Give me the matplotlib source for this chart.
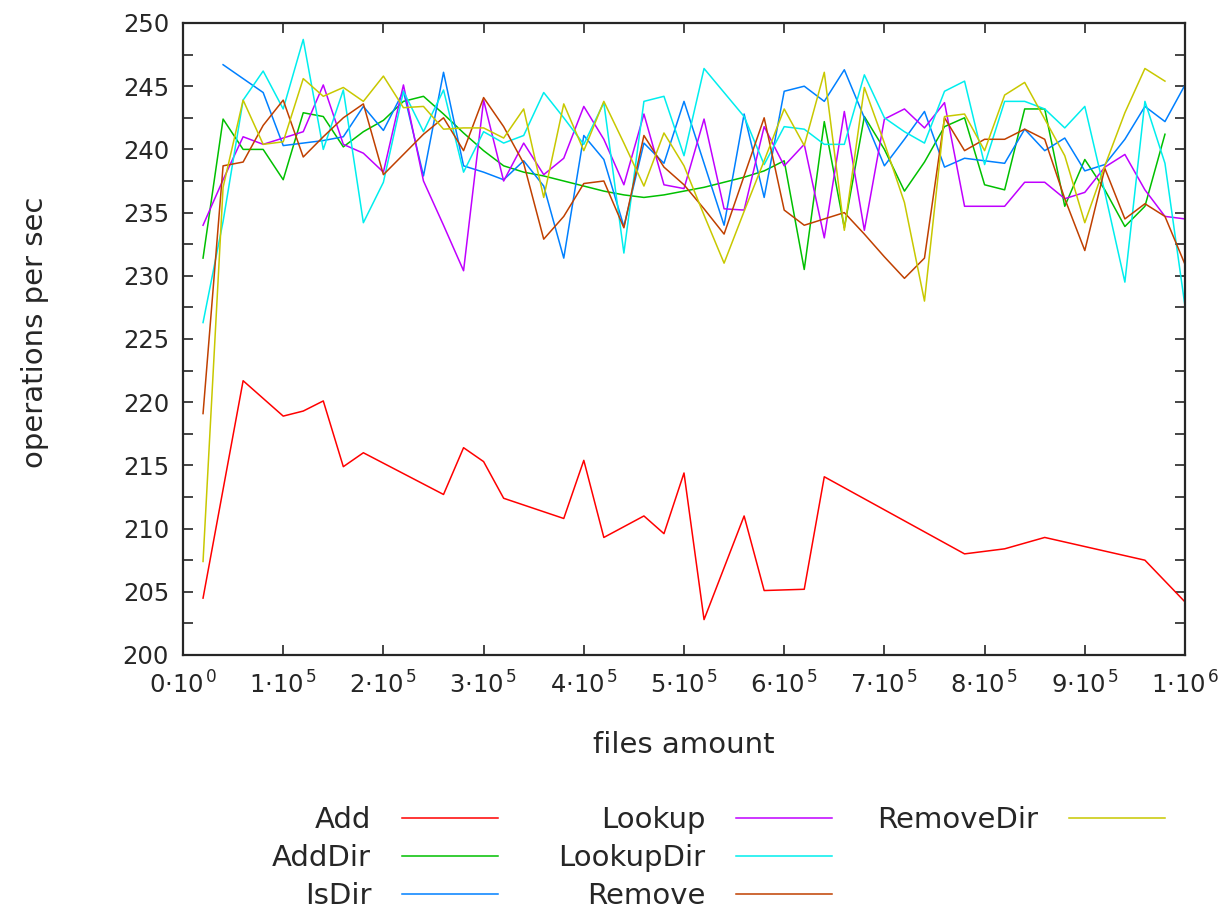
import matplotlib
matplotlib.use('Agg')
import matplotlib.pyplot as plt
from matplotlib.ticker import MultipleLocator, FixedLocator

plt.rcParams['font.family'] = ['DejaVu Sans']
plt.rcParams['mathtext.fontset'] = 'dejavusans'

# ---- data (files amount in thousands) ----
x_full = [20, 40, 60, 80, 100, 120, 140, 160, 180, 200, 220, 240, 260, 280, 300,
          320, 340, 360, 380, 400, 420, 440, 460, 480, 500, 520, 540, 560, 580, 600,
          620, 640, 660, 680, 700, 720, 740, 760, 780, 800, 820, 840, 860, 880, 900,
          920, 940, 960, 980, 1000]

add_x = [20, 60, 100, 120, 140, 160, 180, 260, 280, 300, 320, 380, 400, 420, 460,
         480, 500, 520, 560, 580, 620, 640, 780, 800, 820, 860, 960, 1000]
add_y = [204.5, 221.7, 218.9, 219.3, 220.1, 214.9, 216.0, 212.7, 216.4, 215.3, 212.4,
         210.8, 215.4, 209.3, 211.0, 209.6, 214.4, 202.8, 211.0, 205.1, 205.2, 214.1,
         208.0, 208.2, 208.4, 209.3, 207.5, 204.2]

adddir_y = [231.4, 242.4, 240.0, 240.0, 237.6, 242.9, 242.6, 240.2, 241.4, 242.3,
            243.8, 244.2, 242.8, 241.3, 239.9, 238.7, 238.2, 237.9, 237.5, 237.1,
            236.7, 236.4, 236.2, 236.4, 236.7, 237.0, 237.4, 237.8, 238.3, 239.1,
            230.5, 242.2, 233.8, 242.6, 240.0, 236.7, 239.0, 241.8, 242.5, 237.2,
            236.8, 243.2, 243.2, 235.5, 239.2, 236.8, 233.9, 235.5, 241.2]

isdir_y = [246.7, 245.6, 244.5, 240.3, 240.5, 240.7, 241.0, 243.4, 241.5, 244.6,
           237.9, 246.1, 238.7, 238.2, 237.6, 239.1, 237.1, 231.4, 241.1, 239.2,
           233.9, 240.5, 238.9, 243.8, 238.9, 234.0, 242.8, 236.2, 244.6, 245.0,
           243.8, 246.3, 242.5, 238.7, 240.8, 243.0, 238.6, 239.3, 239.1, 238.9,
           241.6, 239.9, 240.9, 238.3, 238.8, 240.8, 243.4, 242.2, 245.1]

lookup_y = [234.0, 237.6, 241.0, 240.4, 240.9, 241.4, 245.1, 240.4, 239.7, 238.2,
            245.1, 237.5, 234.0, 230.4, 243.9, 237.5, 240.5, 238.0, 239.3, 243.4,
            240.8, 237.2, 242.8, 237.2, 236.9, 242.4, 235.3, 235.2, 241.8, 238.7,
            240.4, 233.0, 243.0, 233.6, 242.4, 243.2, 241.7, 243.7, 235.5, 235.5,
            235.5, 237.4, 237.4, 236.1, 236.6, 238.6, 239.6, 236.8, 234.7, 234.5]

lookupdir_y = [226.3, 234.3, 243.9, 246.2, 243.2, 248.7, 240.0, 244.7, 234.2, 237.4,
               244.6, 241.4, 244.7, 238.2, 241.4, 240.5, 241.1, 244.5, 242.5, 240.4,
               243.7, 231.8, 243.8, 244.2, 239.5, 246.4, 244.5, 242.6, 238.8, 241.8,
               241.6, 240.4, 240.4, 245.9, 242.5, 241.4, 240.5, 244.6, 245.4, 238.8,
               243.8, 243.8, 243.2, 241.7, 243.4, 236.6, 229.5, 243.8, 238.9, 227.6]

remove_y = [219.1, 238.7, 239.0, 241.9, 243.9, 239.4, 241.0, 242.5, 243.6, 238.0,
            239.6, 241.2, 242.5, 239.9, 244.1, 241.8, 238.9, 232.9, 234.7, 237.3,
            237.5, 233.8, 241.1, 238.6, 237.2, 235.3, 233.3, 237.9, 242.5, 235.2,
            234.0, 234.5, 235.0, 233.3, 231.5, 229.8, 231.4, 242.5, 239.9, 240.8,
            240.8, 241.6, 240.8, 236.1, 232.0, 238.5, 234.5, 235.7, 234.7, 230.9]

removedir_y = [207.4, 237.0, 243.9, 240.4, 240.6, 245.6, 244.2, 244.9, 243.8, 245.8,
               243.3, 243.4, 241.6, 241.7, 241.7, 240.9, 243.2, 236.2, 243.6, 239.9,
               243.8, 240.5, 237.1, 241.3, 238.7, 234.8, 231.0, 235.1, 239.1, 243.2,
               240.3, 246.1, 233.6, 244.9, 240.5, 235.8, 228.0, 242.6, 242.8, 239.9,
               244.3, 245.3, 242.4, 239.5, 234.2, 238.7, 242.9, 246.4, 245.4]

x_ticks = [0, 100000, 200000, 300000, 400000, 500000, 600000, 700000, 800000, 900000, 1000000]
x_tick_labels = [r'$0{\cdot}10^{\,0}$', r'$1{\cdot}10^{\,5}$', r'$2{\cdot}10^{\,5}$', r'$3{\cdot}10^{\,5}$',
                 r'$4{\cdot}10^{\,5}$', r'$5{\cdot}10^{\,5}$', r'$6{\cdot}10^{\,5}$', r'$7{\cdot}10^{\,5}$',
                 r'$8{\cdot}10^{\,5}$', r'$9{\cdot}10^{\,5}$', r'$1{\cdot}10^{\,6}$']

colors = {'Add': '#ff0000', 'AddDir': '#00c000', 'IsDir': '#0080ff', 'Lookup': '#c000ff',
          'LookupDir': '#00eeee', 'Remove': '#c04000', 'RemoveDir': '#c8c800'}

FS = 17.5      # tick labels
FS_TXT = 21    # axis titles and legend
TXT = '#262626'
fig = plt.figure(figsize=(12.32, 9.09), dpi=100)
ax = fig.add_axes([183/1232, 1-655/909, (1185-183)/1232, (655-23)/909])

def k(v):
    return [a * 1000 for a in v]

lw = 1.1
series = [
    ('Add', k(add_x), add_y),
    ('AddDir', k(x_full[:len(adddir_y)]), adddir_y),
    ('IsDir', k(x_full[1:1 + len(isdir_y)]), isdir_y),
    ('Lookup', k(x_full), lookup_y),
    ('LookupDir', k(x_full), lookupdir_y),
    ('Remove', k(x_full), remove_y),
    ('RemoveDir', k(x_full[:len(removedir_y)]), removedir_y),
]
handles = {}
for name, xs, ys in series:
    h, = ax.plot(xs, ys, color=colors[name], lw=lw, label=name)
    handles[name] = h

ax.set_xlim(0, 1000000)
ax.set_ylim(200, 250)
ax.xaxis.set_major_locator(FixedLocator(x_ticks))
ax.set_xticklabels(x_tick_labels)
ax.yaxis.set_major_locator(MultipleLocator(5))
ax.yaxis.set_minor_locator(MultipleLocator(2.5))
ax.tick_params(axis='both', which='both', direction='in', top=True, right=True,
               length=7, width=1.2, labelsize=FS, colors=TXT)
ax.tick_params(axis='y', pad=10)
ax.tick_params(axis='x', pad=12)
for sp in ax.spines.values():
    sp.set_linewidth(1.6)
    sp.set_color(TXT)

ax.set_xlabel('files amount', fontsize=FS_TXT, color=TXT, va='center')
ax.xaxis.set_label_coords(0.5, (655 - 745) / 632)
ax.set_ylabel('operations per sec', fontsize=FS_TXT, color=TXT, va='center')
ax.yaxis.set_label_coords((35 - 183) / 1002, (655 - 332) / 632)

cols = [(['Add', 'AddDir', 'IsDir'], 498), (['Lookup', 'LookupDir', 'Remove'], 832),
        (['RemoveDir'], 1165)]
for names, xr in cols:
    leg = fig.legend([handles[n] for n in names], names, loc='upper right',
                     bbox_to_anchor=(xr / 1232, 1 - 806 / 909), frameon=False,
                     markerfirst=False, fontsize=FS_TXT, handlelength=3.3,
                     handletextpad=1.05, labelspacing=0.34, borderpad=0, borderaxespad=0)
    for t in leg.get_texts():
        t.set_color(TXT)

fig.savefig('out.png', dpi=100)
